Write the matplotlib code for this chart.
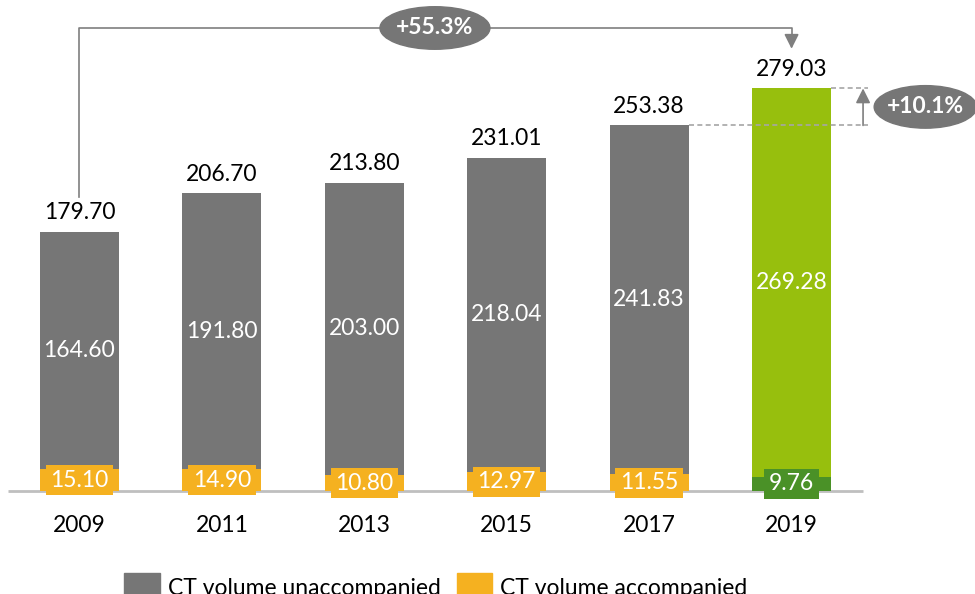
import matplotlib
matplotlib.use("Agg")
import matplotlib.pyplot as plt
from matplotlib.patches import Ellipse

plt.rcParams['font.family'] = ['Lato', 'DejaVu Sans']

years = ['2009', '2011', '2013', '2015', '2017', '2019']
unaccompanied = [164.60, 191.80, 203.00, 218.04, 241.83, 269.28]
accompanied = [15.10, 14.90, 10.80, 12.97, 11.55, 9.76]
totals = [179.70, 206.70, 213.80, 231.01, 253.38, 279.03]
growth_total = '+55.3%'
growth_last = '+10.1%'
series_names = ['CT volume unaccompanied', 'CT volume accompanied']

GREY = '#767676'
ORANGE = '#F5B120'
GREEN = '#97BF0D'
DKGREEN = '#4A9127'
LINE = '#7F7F7F'

unacc_colors = [GREY] * 5 + [GREEN]
acc_colors = [ORANGE] * 5 + [DKGREEN]

fig = plt.figure(figsize=(9.75, 5.94), dpi=100)
ax = fig.add_axes([0, 0, 1, 1])
ax.set_xlim(-0.558, 6.288)
ax.set_ylim(-71.4, 340.3)
ax.axis('off')

x = list(range(len(years)))
w = 0.555
FS = 16.5

ax.plot([-0.5, 5.5], [0, 0], color='#BFBFBF', lw=2, zorder=1, solid_capstyle='butt')

b_acc = ax.bar(x, accompanied, width=w, color=acc_colors, zorder=2, label=series_names[1])
b_un = ax.bar(x, unaccompanied, width=w, bottom=accompanied, color=unacc_colors, zorder=2,
              label=series_names[0])

for i in x:
    ax.text(i, accompanied[i] + unaccompanied[i] / 2, f'{unaccompanied[i]:.2f}', ha='center',
            va='center', color='white', fontsize=FS, zorder=4)
    ax.text(i, accompanied[i] / 2, f'{accompanied[i]:.2f}', ha='center', va='center',
            color='white', fontsize=FS, zorder=4,
            bbox=dict(boxstyle='square,pad=0.2', fc=acc_colors[i], ec='none'))
    ax.text(i, totals[i] + 13, f'{totals[i]:.2f}', ha='center', va='center', color='black',
            fontsize=FS, zorder=4)
    ax.text(i, -23.6, years[i], ha='center', va='center', color='black', fontsize=FS)

# overall growth bracket
top_y = 320.9
ax.plot([0, 0, 5, 5], [203.7, top_y, top_y, 312], color=LINE, lw=1.2, zorder=3)
ax.annotate('', xy=(5, 306.5), xytext=(5, 313), zorder=3,
            arrowprops=dict(arrowstyle='-|>', color=LINE, lw=1.2, mutation_scale=22,
                            shrinkA=0, shrinkB=0))
ax.add_patch(Ellipse((2.496, top_y), 0.772, 29.5, color=GREY, zorder=5))
ax.text(2.496, top_y, growth_total, ha='center', va='center', color='white', fontsize=FS,
        fontweight='bold', zorder=6)

# last-period growth
xr = 5.537
ax.plot([4 + w / 2, xr], [totals[4], totals[4]], color='#A6A6A6', lw=1.2, ls=(0, (3, 2)), zorder=3)
ax.plot([5 + w / 2, xr], [totals[5], totals[5]], color='#A6A6A6', lw=1.2, ls=(0, (3, 2)), zorder=3)
ax.annotate('', xy=(5.502, totals[5]), xytext=(5.502, totals[4]), zorder=3,
            arrowprops=dict(arrowstyle='-|>', color=LINE, lw=1.2, mutation_scale=22,
                            shrinkA=0, shrinkB=0))
ax.add_patch(Ellipse((5.94, (totals[4] + totals[5]) / 2), 0.72, 29.5, color=GREY, zorder=5))
ax.text(5.94, (totals[4] + totals[5]) / 2, growth_last, ha='center', va='center', color='white',
        fontsize=FS, fontweight='bold', zorder=6)

handles = [plt.Rectangle((0, 0), 1, 1, color=GREY), plt.Rectangle((0, 0), 1, 1, color=ORANGE)]
fig.legend(handles, series_names, loc='center', bbox_to_anchor=(0.447, 0.011), ncol=2,
           frameon=False, fontsize=FS, handlelength=1.55, handleheight=1.55, handletextpad=0.35,
           columnspacing=0.7, borderpad=0, borderaxespad=0)

fig.savefig('out.png', dpi=100)
